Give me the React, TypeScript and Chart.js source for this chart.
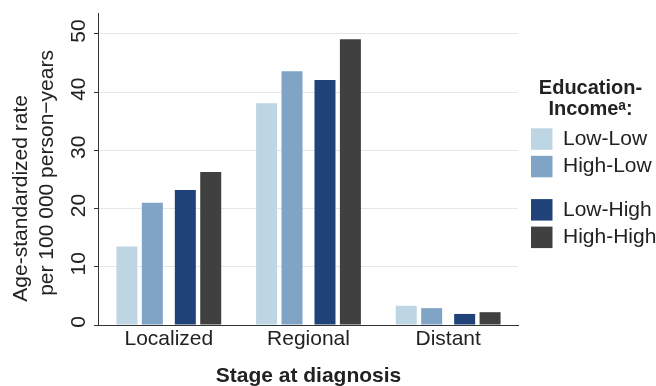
import { useEffect, useRef } from 'react';
import { Chart, registerables } from 'chart.js';

Chart.register(...registerables);

// ---- data ----
const categories = ['Localized', 'Regional', 'Distant'];
const seriesNames = ['Low-Low', 'High-Low', 'Low-High', 'High-High'];
const lowLow = [13.5, 38.1, 3.3];
const highLow = [21.0, 43.6, 2.9];
const lowHigh = [23.2, 42.1, 1.9];
const highHigh = [26.3, 49.1, 2.2];
const yTickValues = [0, 10, 20, 30, 40, 50];
const yMax = 53.6;
const yTitle = ['    Age-standardized rate', '     per 100 000 person\u2212years'];
const xTitle = 'Stage at diagnosis';
const legendTitle = ['Education-', 'Income\u1d43:'];

const seriesValues = [lowLow, highLow, lowHigh, highHigh];
const seriesColors = ['#bed5e4', '#7fa4c6', '#1f4278', '#404040'];
const seriesCatPct = [0.8, 0.945, 0.945, 0.8];

const TEXT = '#222222';
const AXIS = '#333333';

export default function App() {
  const ref = useRef<HTMLCanvasElement>(null);

  useEffect(() => {
    if (!ref.current) return;
    Chart.defaults.font.family = "'Liberation Sans', Arial, Helvetica, sans-serif";
    Chart.defaults.color = TEXT;

    const chart = new Chart(ref.current, {
      type: 'bar',
      data: {
        labels: categories,
        datasets: seriesNames.map((name, i) => ({
          label: name,
          data: seriesValues[i],
          backgroundColor: seriesColors[i],
          borderWidth: 0,
          barPercentage: 1,
          categoryPercentage: seriesCatPct[i],
          maxBarThickness: 21,
        })),
      },
      options: {
        responsive: false,
        animation: false,
        layout: { padding: { top: 0, left: 0, right: 0, bottom: 0 } },
        scales: {
          x: {
            grid: { display: false, drawTicks: false },
            border: { display: true, color: AXIS, width: 1 },
            ticks: { padding: 2, font: { size: 21 }, color: TEXT },
            title: {
              display: true,
              text: xTitle,
              font: { size: 21, weight: 'bold', lineHeight: 1 },
              padding: { top: 11.8, bottom: -1 },
              color: TEXT,
            },
          },
          y: {
            min: 0,
            max: yMax,
            afterBuildTicks: (scale: any) => {
              scale.ticks = yTickValues.map((v) => ({ value: v }));
            },
            border: { display: true, color: AXIS, width: 1 },
            grid: {
              color: (ctx: any) => (ctx.tick && ctx.tick.value === 0 ? 'rgba(0,0,0,0)' : '#e6e6e6'),
              lineWidth: 1,
              tickLength: 5,
              tickColor: AXIS,
              drawTicks: true,
            },
            ticks: {
              minRotation: 90,
              maxRotation: 90,
              crossAlign: 'center',
              padding: 3,
              labelOffset: -3,
              font: { size: 21, lineHeight: 20 / 21 },
              color: TEXT,
            },
            title: {
              display: true,
              text: yTitle,
              align: 'start',
              font: { size: 21, lineHeight: 1.257 },
              padding: { top: 7.6, bottom: 7.6 },
              color: TEXT,
            },
          },
          gap: {
            type: 'linear',
            position: 'right',
            display: true,
            grid: { display: false, drawTicks: false },
            border: { display: false },
            ticks: { display: false },
            afterFit: (scale: any) => {
              scale.width = 7;
            },
          },
        },
        plugins: {
          tooltip: { enabled: false },
          legend: {
            position: 'right',
            align: 'start',
            maxWidth: 131,
            title: {
              display: true,
              text: legendTitle,
              position: 'center',
              font: { size: 20, weight: 'bold', lineHeight: 1.05 },
              padding: { top: 78.3, bottom: 23 },
              color: TEXT,
            },
            labels: {
              boxWidth: 21.5,
              boxHeight: 21.5,
              padding: 6,
              color: TEXT,
              font: { size: 21, lineHeight: 0.888 },
              generateLabels: (c: any) => {
                const items = Chart.defaults.plugins.legend.labels.generateLabels(c);
                if (items[1]) {
                  items[1].text = [items[1].text as string, ''] as any;
                }
                return items;
              },
            },
          },
        },
      } as any,
    });
    return () => chart.destroy();
  }, []);

  return (
    <div style={{ position: 'fixed', left: 0, top: 0, width: 656, height: 386, background: '#ffffff' }}>
      <canvas ref={ref} width={656} height={386} style={{ display: 'block', width: 656, height: 386 }} />
    </div>
  );
}
